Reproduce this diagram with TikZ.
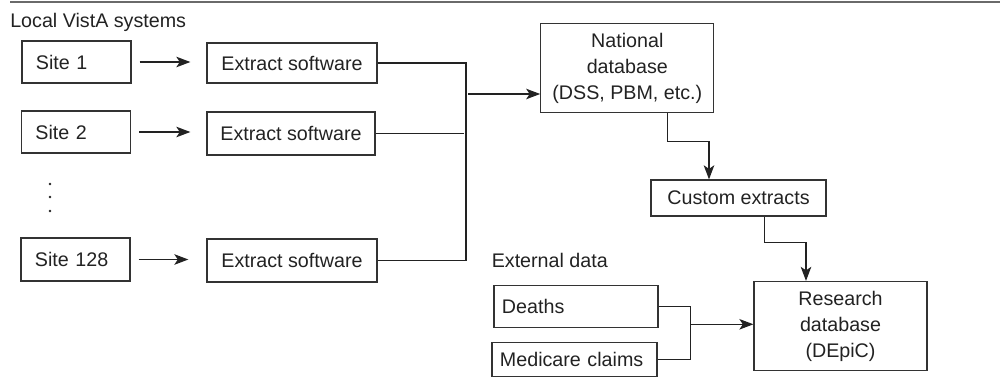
\documentclass[tikz,border=0pt]{standalone}
\usepackage{fontspec}
\setmainfont{Liberation Sans}
\usetikzlibrary{arrows.meta}
\definecolor{ink}{HTML}{222222}
\definecolor{boxline}{HTML}{333333}
\definecolor{rulegray}{HTML}{6A6A6A}
\begin{document}
\begin{tikzpicture}[x=0.025cm,y=-0.025cm,
  box/.style={draw=boxline,line width=0.85pt,inner sep=0pt,text=ink,
    font=\fontsize{14pt}{18.5pt}\selectfont,align=center},
  sitebox/.style={box,align=left,inner xsep=0.35cm,text width=2.025cm},
  extbox/.style={box,align=left,inner xsep=0.2cm},
  lbl/.style={inner sep=0pt,text=ink,font=\fontsize{14pt}{18.5pt}\selectfont},
  wire/.style={draw=ink,line width=0.8pt},
  arr/.style={wire,-{Stealth[length=10pt,width=7.5pt,inset=2.5pt]}},
  dot/.style={fill=ink,draw=none}
]
\useasboundingbox (0,0) rectangle (1000,388);

% heading rule
\draw[rulegray,line width=1.5pt] (10,2) -- (1000,2);

% local sites
\node[lbl,anchor=base west] (local) at (10,27) {Local VistA systems};
\node[sitebox,minimum width=2.725cm,minimum height=1.05cm] (site1) at (76.5,62) {Site 1};
\node[sitebox,minimum width=2.725cm,minimum height=1.05cm] (site2) at (76,132) {Site 2};
\node[sitebox,minimum width=2.725cm,minimum height=1.075cm] (site3) at (75.5,259.5) {Site 128};
\foreach \yy/\nm in {184/d1,197/d2,211/d3}
  \fill[dot] (50,\yy) circle (1.4);

% extract software
\node[box,minimum width=4.25cm,minimum height=1.0cm] (ext1) at (292,63) {Extract software};
\node[box,minimum width=4.2cm,minimum height=1.075cm] (ext2) at (291,133.5) {Extract software};
\node[box,minimum width=4.25cm,minimum height=1.075cm] (ext3) at (292,260.5) {Extract software};

\draw[arr,shorten <=0.2cm,shorten >=0.4cm] (site1.east) -- (site1.east -| ext1.west);
\draw[arr,shorten <=0.2cm,shorten >=0.4cm] (site2.east) -- (site2.east -| ext2.west);
\draw[arr,shorten <=0.2cm,shorten >=0.45cm] (site3.east) -- (site3.east -| ext3.west);

% national database
\node[box,minimum width=4.325cm,minimum height=2.225cm] (nat) at (627.3,68)
  {National\\database\\(DSS, PBM, etc.)};

\coordinate (busB) at (466,260.5);
\coordinate (busM) at (466,94);
\draw[wire] (ext1.east) -| (busB) -- (ext3.east);
\draw[wire] (ext2.east) -- (ext2.east -| 464,0);
\draw[arr] ([xshift=0.05cm]busM) -- (busM -| nat.west);

% custom extracts
\node[box,minimum width=4.375cm,minimum height=0.9cm] (cust) at (738.5,198) {Custom extracts};
\coordinate (n1) at (667.7,141.7);
\coordinate (n2) at (709,141.7);
\draw[arr] (nat.south -| n1) -- (n1) -- (n2) -- (n2 |- cust.north);

% research database
\node[box,minimum width=4.325cm,minimum height=2.225cm] (res) at (840.5,326)
  {Research\\database\\(DEpiC)};
\coordinate (c1) at (764.3,242.5);
\coordinate (c2) at (806,242.5);
\draw[arr] (cust.south -| c1) -- (c1) -- (c2) -- (c2 |- res.north);

% external data
\node[lbl,anchor=base west] (extdata) at (491.5,267) {External data};
\node[extbox,text width=3.7cm,minimum height=1.05cm] (deaths) at (576,306.5) {Deaths};
\node[extbox,text width=3.725cm,minimum height=0.85cm] (med) at (574.5,359.7) {Medicare claims};
\coordinate (j2) at (690.7,359.7);
\coordinate (jm) at (690.7,324.3);
\draw[wire] (deaths.east) -| (j2) -- (med.east);
\draw[arr] (jm) -- (jm -| res.west);
\end{tikzpicture}
\end{document}
